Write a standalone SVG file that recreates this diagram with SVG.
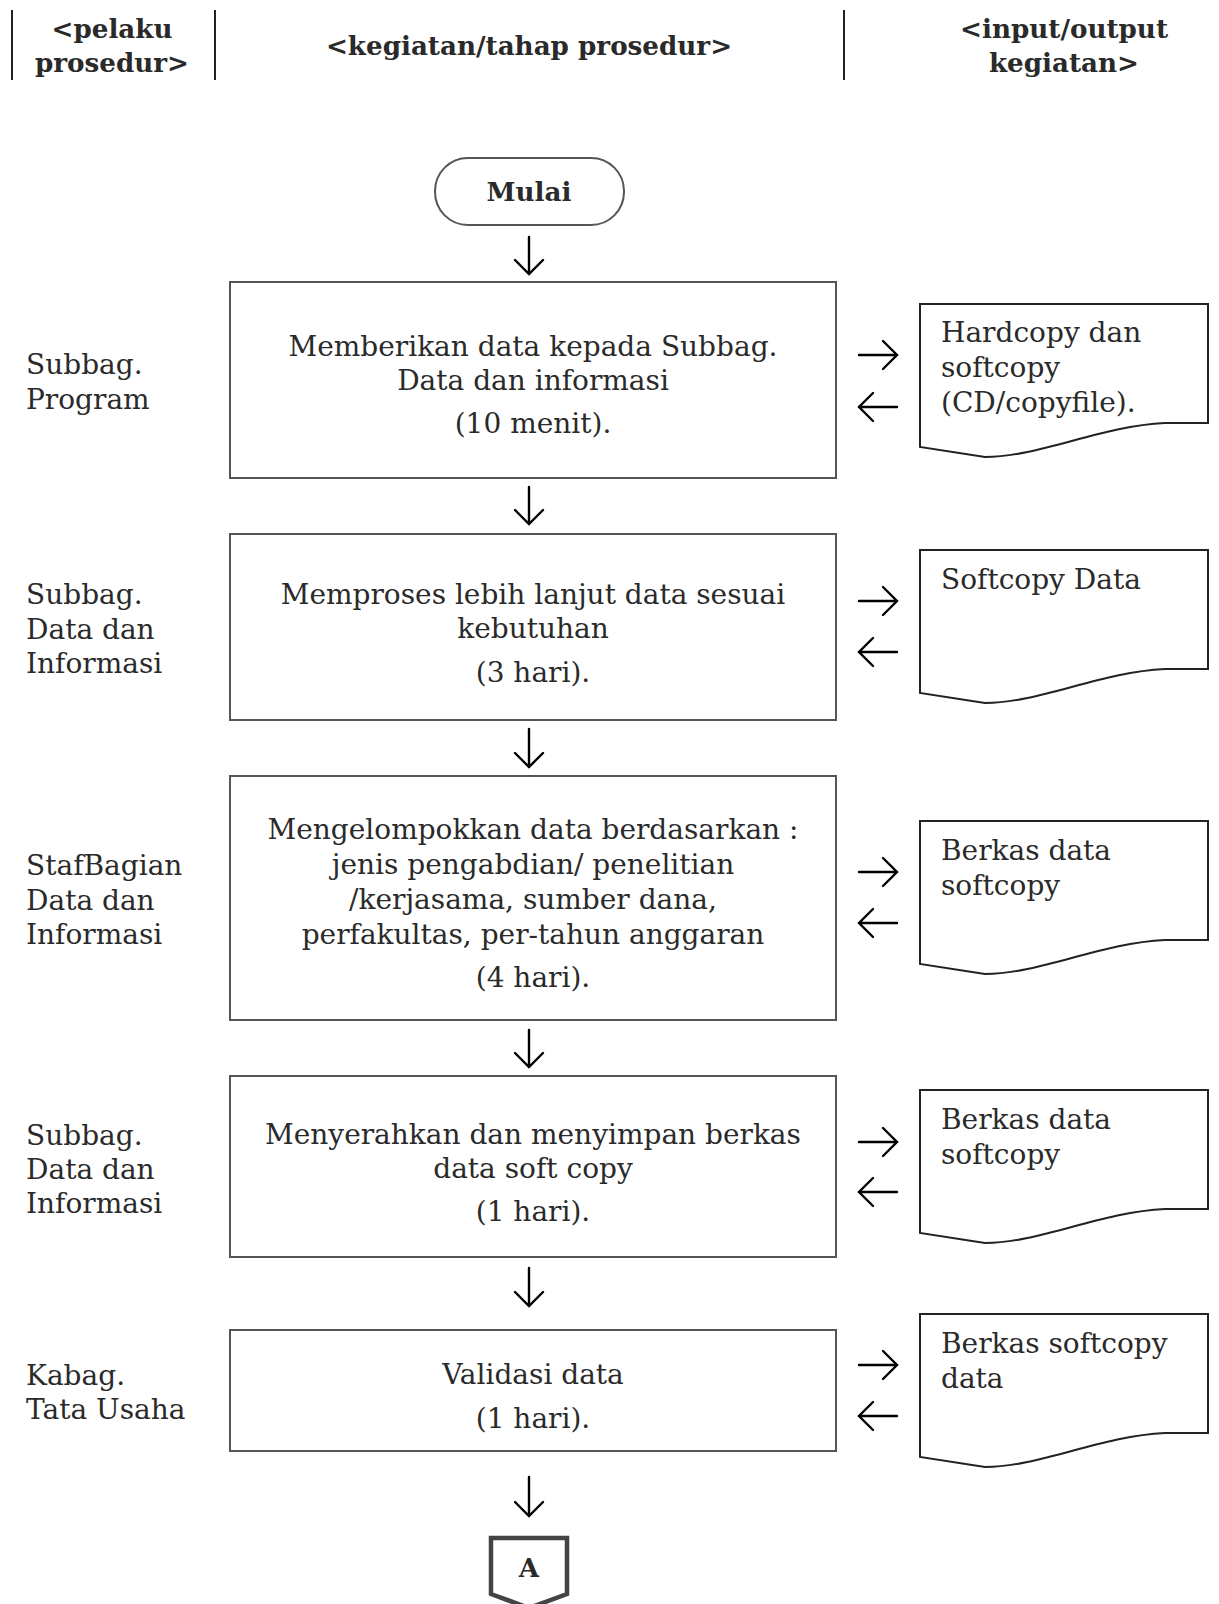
<svg xmlns="http://www.w3.org/2000/svg" width="1219" height="1604" viewBox="0 0 1219 1604">
<style>
.t{font-family:"DejaVu Serif","Liberation Serif",serif;font-size:28px;fill:#2a2a2a}
.c{text-anchor:middle}
.h{font-family:"DejaVu Serif","Liberation Serif",serif;font-size:26.2px;font-weight:bold;fill:#2a2a2a;text-anchor:middle}
.box{fill:#fff;stroke:#555;stroke-width:2}
.doc{fill:#fff;stroke:#222;stroke-width:2}
.ar{fill:none;stroke:#000;stroke-width:2.4;stroke-linecap:round;stroke-linejoin:miter}
.sep{stroke:#222;stroke-width:2}
</style>
<g id="header">
<line class="sep" x1="12" y1="10" x2="12" y2="80"/>
<line class="sep" x1="215" y1="10" x2="215" y2="80"/>
<line class="sep" x1="844" y1="10" x2="844" y2="80"/>
<text class="h" x="112" y="38">&lt;pelaku</text>
<text class="h" x="112" y="72">prosedur&gt;</text>
<text class="h" x="529" y="55">&lt;kegiatan/tahap prosedur&gt;</text>
<text class="h" x="1064" y="38">&lt;input/output</text>
<text class="h" x="1064" y="72">kegiatan&gt;</text>
</g>
<g id="mulai">
<rect class="box" x="435" y="158" width="189" height="67" rx="33"/>
<text class="h" x="529" y="201" font-size="25.5">Mulai</text>
</g>
<g id="step1">
<rect class="box" x="230" y="282" width="606" height="196"/>
<text class="t c" x="533" y="356">Memberikan data kepada Subbag.</text>
<text class="t c" x="533" y="390">Data dan informasi</text>
<text class="t c" x="533" y="433">(10 menit).</text>
</g>
<g id="actor1">
<text class="t" x="26" y="374">Subbag.</text>
<text class="t" x="26" y="409">Program</text>
</g>
<g id="doc1">
<path class="doc" d="M920,304 H1208 V423 H1165 C1100,426 1040,457 985,457 L920,447 Z"/>
<text class="t" x="941" y="342">Hardcopy dan</text>
<text class="t" x="941" y="377">softcopy</text>
<text class="t" x="941" y="412">(CD/copyfile).</text>
</g>
<g id="step2">
<rect class="box" x="230" y="534" width="606" height="186"/>
<text class="t c" x="533" y="604">Memproses lebih lanjut data sesuai</text>
<text class="t c" x="533" y="638">kebutuhan</text>
<text class="t c" x="533" y="682">(3 hari).</text>
</g>
<g id="actor2">
<text class="t" x="26" y="604">Subbag.</text>
<text class="t" x="26" y="639">Data dan</text>
<text class="t" x="26" y="673">Informasi</text>
</g>
<g id="doc2">
<path class="doc" d="M920,550 H1208 V669 H1165 C1100,672 1040,703 985,703 L920,693 Z"/>
<text class="t" x="941" y="589">Softcopy Data</text>
</g>
<g id="step3">
<rect class="box" x="230" y="776" width="606" height="244"/>
<text class="t c" x="533" y="839">Mengelompokkan data berdasarkan :</text>
<text class="t c" x="533" y="874">jenis pengabdian/ penelitian</text>
<text class="t c" x="533" y="909">/kerjasama, sumber dana,</text>
<text class="t c" x="533" y="944">perfakultas, per-tahun anggaran</text>
<text class="t c" x="533" y="987">(4 hari).</text>
</g>
<g id="actor3">
<text class="t" x="26" y="875">StafBagian</text>
<text class="t" x="26" y="910">Data dan</text>
<text class="t" x="26" y="944">Informasi</text>
</g>
<g id="doc3">
<path class="doc" d="M920,821 H1208 V940 H1165 C1100,943 1040,974 985,974 L920,964 Z"/>
<text class="t" x="941" y="860">Berkas data</text>
<text class="t" x="941" y="895">softcopy</text>
</g>
<g id="step4">
<rect class="box" x="230" y="1076" width="606" height="181"/>
<text class="t c" x="533" y="1144">Menyerahkan dan menyimpan berkas</text>
<text class="t c" x="533" y="1178">data soft copy</text>
<text class="t c" x="533" y="1221">(1 hari).</text>
</g>
<g id="actor4">
<text class="t" x="26" y="1145">Subbag.</text>
<text class="t" x="26" y="1179">Data dan</text>
<text class="t" x="26" y="1213">Informasi</text>
</g>
<g id="doc4">
<path class="doc" d="M920,1090 H1208 V1209 H1165 C1100,1212 1040,1243 985,1243 L920,1233 Z"/>
<text class="t" x="941" y="1129">Berkas data</text>
<text class="t" x="941" y="1164">softcopy</text>
</g>
<g id="step5">
<rect class="box" x="230" y="1330" width="606" height="121"/>
<text class="t c" x="533" y="1384">Validasi data</text>
<text class="t c" x="533" y="1428">(1 hari).</text>
</g>
<g id="actor5">
<text class="t" x="26" y="1385">Kabag.</text>
<text class="t" x="26" y="1419">Tata Usaha</text>
</g>
<g id="doc5">
<path class="doc" d="M920,1314 H1208 V1433 H1165 C1100,1436 1040,1467 985,1467 L920,1457 Z"/>
<text class="t" x="941" y="1353">Berkas softcopy</text>
<text class="t" x="941" y="1388">data</text>
</g>
<g id="connectorA">
<path d="M491,1538 H567 V1594 L529,1608 L491,1594 Z" fill="#fff" stroke="#444" stroke-width="4.5"/>
<text class="h" x="529" y="1577" font-size="25">A</text>
</g>
<g id="connectors">
<path class="ar" d="M529,237 V274 M515,260 L529,274 L543,260"/>
<path class="ar" d="M529,487 V524 M515,510 L529,524 L543,510"/>
<path class="ar" d="M529,729 V767 M515,753 L529,767 L543,753"/>
<path class="ar" d="M529,1030 V1067 M515,1053 L529,1067 L543,1053"/>
<path class="ar" d="M529,1268 V1306 M515,1292 L529,1306 L543,1292"/>
<path class="ar" d="M529,1477 V1516 M515,1502 L529,1516 L543,1502"/>
<path class="ar" d="M859,355 H897 M883,341 L897,355 L883,369"/>
<path class="ar" d="M897,407 H859 M873,393 L859,407 L873,421"/>
<path class="ar" d="M859,601 H897 M883,587 L897,601 L883,615"/>
<path class="ar" d="M897,652 H859 M873,638 L859,652 L873,666"/>
<path class="ar" d="M859,872 H897 M883,858 L897,872 L883,886"/>
<path class="ar" d="M897,923 H859 M873,909 L859,923 L873,937"/>
<path class="ar" d="M859,1142 H897 M883,1128 L897,1142 L883,1156"/>
<path class="ar" d="M897,1192 H859 M873,1178 L859,1192 L873,1206"/>
<path class="ar" d="M859,1365 H897 M883,1351 L897,1365 L883,1379"/>
<path class="ar" d="M897,1416 H859 M873,1402 L859,1416 L873,1430"/>
</g>
</svg>
